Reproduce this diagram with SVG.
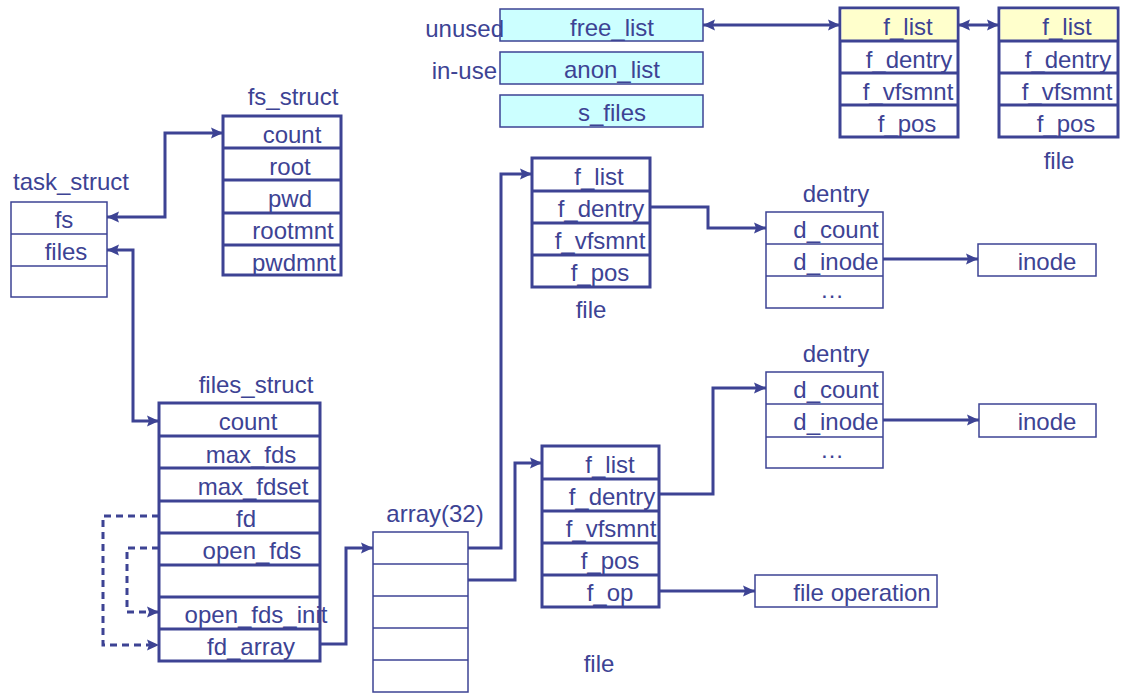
<svg xmlns="http://www.w3.org/2000/svg" width="1121" height="693" viewBox="0 0 1121 693">
  <style>
    text { font-family: "Liberation Sans", Arial, sans-serif; font-size: 24px; fill: #3d4394; }
    .c { text-anchor: middle; }
    .e { text-anchor: end; }
    .thick { fill: #ffffff; stroke: #3d4394; stroke-width: 3; }
    .thin { fill: #ffffff; stroke: #3d4394; stroke-width: 1.5; }
    .cyan { fill: #ccffff; stroke: #3d4394; stroke-width: 1.5; }
    .yellow { fill: #ffffcc; stroke: none; }
    .rowT { stroke: #3d4394; stroke-width: 3; }
    .rowN { stroke: #3d4394; stroke-width: 1.5; }
    .link { fill: none; stroke: #3d4394; stroke-width: 3; }
    .dash { fill: none; stroke: #3d4394; stroke-width: 3; stroke-dasharray: 7 5; }
  </style>
  <defs>
    <marker id="arrow" viewBox="0 0 12 12" refX="12" refY="6" markerWidth="12" markerHeight="12" markerUnits="userSpaceOnUse" orient="auto-start-reverse">
      <path d="M0,0.5 L12,6 L0,11.5 L2,6 z" fill="#3d4394"/>
    </marker>
  </defs>

  <!-- super block lists -->
  <g id="sb_lists">
    <rect class="cyan" x="500" y="9" width="203" height="32"/>
    <rect class="cyan" x="500" y="52" width="203" height="32"/>
    <rect class="cyan" x="500" y="95" width="203" height="32"/>
    <text class="c" x="612" y="36">free_list</text>
    <text class="c" x="612" y="78">anon_list</text>
    <text class="c" x="612" y="121">s_files</text>
    <text class="e" x="504" y="37">unused</text>
    <text class="e" x="497" y="79">in-use</text>
  </g>

  <!-- file objects on the free list -->
  <g id="file_free_1">
    <rect class="thick" x="840" y="8" width="118" height="129"/>
    <rect class="yellow" x="841.5" y="9.5" width="115" height="31"/>
    <line class="rowT" x1="840" y1="41" x2="958" y2="41"/>
    <line class="rowT" x1="840" y1="73" x2="958" y2="73"/>
    <line class="rowT" x1="840" y1="105" x2="958" y2="105"/>
    <text class="c" x="908" y="35">f_list</text>
    <text class="c" x="909" y="68">f_dentry</text>
    <text class="c" x="908" y="100">f_vfsmnt</text>
    <text class="c" x="907" y="132">f_pos</text>
  </g>
  <g id="file_free_2">
    <rect class="thick" x="999" y="8" width="119" height="129"/>
    <rect class="yellow" x="1000.5" y="9.5" width="116" height="31"/>
    <line class="rowT" x1="999" y1="41" x2="1118" y2="41"/>
    <line class="rowT" x1="999" y1="73" x2="1118" y2="73"/>
    <line class="rowT" x1="999" y1="105" x2="1118" y2="105"/>
    <text class="c" x="1067" y="35">f_list</text>
    <text class="c" x="1068" y="68">f_dentry</text>
    <text class="c" x="1067" y="100">f_vfsmnt</text>
    <text class="c" x="1066" y="132">f_pos</text>
    <text class="c" x="1059" y="169">file</text>
  </g>

  <!-- fs_struct -->
  <g id="fs_struct">
    <text class="c" x="293" y="105">fs_struct</text>
    <rect class="thick" x="223" y="116" width="118" height="159"/>
    <line class="rowT" x1="223" y1="148" x2="341" y2="148"/>
    <line class="rowT" x1="223" y1="180" x2="341" y2="180"/>
    <line class="rowT" x1="223" y1="213" x2="341" y2="213"/>
    <line class="rowT" x1="223" y1="245" x2="341" y2="245"/>
    <text class="c" x="292" y="143">count</text>
    <text class="c" x="290" y="175">root</text>
    <text class="c" x="290" y="207">pwd</text>
    <text class="c" x="293" y="239">rootmnt</text>
    <text class="c" x="294" y="271">pwdmnt</text>
  </g>

  <!-- task_struct -->
  <g id="task_struct">
    <text x="13" y="190">task_struct</text>
    <rect class="thin" x="11" y="202" width="96" height="95"/>
    <line class="rowN" x1="11" y1="234" x2="107" y2="234"/>
    <line class="rowN" x1="11" y1="266" x2="107" y2="266"/>
    <text class="c" x="64" y="228">fs</text>
    <text class="c" x="66" y="260">files</text>
  </g>

  <!-- files_struct -->
  <g id="files_struct">
    <text class="c" x="256" y="393">files_struct</text>
    <rect class="thick" x="159" y="403" width="161" height="258"/>
    <line class="rowT" x1="159" y1="436" x2="320" y2="436"/>
    <line class="rowT" x1="159" y1="468" x2="320" y2="468"/>
    <line class="rowT" x1="159" y1="501" x2="320" y2="501"/>
    <line class="rowT" x1="159" y1="533" x2="320" y2="533"/>
    <line class="rowT" x1="159" y1="565" x2="320" y2="565"/>
    <line class="rowT" x1="159" y1="597" x2="320" y2="597"/>
    <line class="rowT" x1="159" y1="629" x2="320" y2="629"/>
    <text class="c" x="248" y="430">count</text>
    <text class="c" x="251" y="463">max_fds</text>
    <text class="c" x="253" y="495">max_fdset</text>
    <text class="c" x="246" y="527">fd</text>
    <text class="c" x="252" y="559">open_fds</text>
    <text class="c" x="256" y="623">open_fds_init</text>
    <text class="c" x="251" y="655">fd_array</text>
  </g>

  <!-- fd array -->
  <g id="fd_array">
    <text class="c" x="435" y="522">array(32)</text>
    <rect class="thin" x="373" y="532" width="95" height="160"/>
    <line class="rowN" x1="373" y1="564" x2="468" y2="564"/>
    <line class="rowN" x1="373" y1="596" x2="468" y2="596"/>
    <line class="rowN" x1="373" y1="628" x2="468" y2="628"/>
    <line class="rowN" x1="373" y1="660" x2="468" y2="660"/>
  </g>

  <!-- open file objects -->
  <g id="file_open_1">
    <rect class="thick" x="532" y="158" width="118" height="129"/>
    <line class="rowT" x1="532" y1="191" x2="650" y2="191"/>
    <line class="rowT" x1="532" y1="223" x2="650" y2="223"/>
    <line class="rowT" x1="532" y1="255" x2="650" y2="255"/>
    <text class="c" x="599" y="185">f_list</text>
    <text class="c" x="601" y="217">f_dentry</text>
    <text class="c" x="600" y="249">f_vfsmnt</text>
    <text class="c" x="600" y="281">f_pos</text>
    <text class="c" x="591" y="318">file</text>
  </g>
  <g id="file_open_2">
    <rect class="thick" x="542" y="446" width="117" height="161"/>
    <line class="rowT" x1="542" y1="479" x2="659" y2="479"/>
    <line class="rowT" x1="542" y1="511" x2="659" y2="511"/>
    <line class="rowT" x1="542" y1="543" x2="659" y2="543"/>
    <line class="rowT" x1="542" y1="575" x2="659" y2="575"/>
    <text class="c" x="610" y="473">f_list</text>
    <text class="c" x="612" y="505">f_dentry</text>
    <text class="c" x="611" y="537">f_vfsmnt</text>
    <text class="c" x="610" y="569">f_pos</text>
    <text class="c" x="610" y="601">f_op</text>
    <text class="c" x="599" y="672">file</text>
  </g>

  <!-- dentries -->
  <g id="dentry_1">
    <text class="c" x="836" y="202">dentry</text>
    <rect class="thin" x="766" y="212" width="117" height="96"/>
    <line class="rowN" x1="766" y1="244" x2="883" y2="244"/>
    <line class="rowN" x1="766" y1="276" x2="883" y2="276"/>
    <text class="c" x="836" y="238">d_count</text>
    <text class="c" x="836" y="270">d_inode</text>
    <text class="c" x="832" y="298">…</text>
  </g>
  <g id="dentry_2">
    <text class="c" x="836" y="362">dentry</text>
    <rect class="thin" x="766" y="372" width="117" height="96"/>
    <line class="rowN" x1="766" y1="404" x2="883" y2="404"/>
    <line class="rowN" x1="766" y1="437" x2="883" y2="437"/>
    <text class="c" x="836" y="398">d_count</text>
    <text class="c" x="836" y="430">d_inode</text>
    <text class="c" x="832" y="458">…</text>
  </g>

  <!-- inodes and file operations -->
  <g id="inode_1">
    <rect class="thin" x="978" y="244" width="118" height="32"/>
    <text class="c" x="1047" y="270">inode</text>
  </g>
  <g id="inode_2">
    <rect class="thin" x="979" y="404" width="117" height="33"/>
    <text class="c" x="1047" y="430">inode</text>
  </g>
  <g id="file_operation">
    <rect class="thin" x="755" y="575" width="182" height="32"/>
    <text class="c" x="862" y="601">file operation</text>
  </g>

  <!-- pointers between structures -->
  <g id="connectors">
    <path class="link" d="M703,25 H840" marker-start="url(#arrow)" marker-end="url(#arrow)"/>
    <path class="link" d="M958,25 H999" marker-start="url(#arrow)" marker-end="url(#arrow)"/>
    <path class="link" d="M107,217 H165 V133 H223" marker-start="url(#arrow)" marker-end="url(#arrow)"/>
    <path class="link" d="M107,250 H133 V421 H159" marker-start="url(#arrow)" marker-end="url(#arrow)"/>
    <path class="dash" d="M159,516 H103 V645 H159" marker-end="url(#arrow)"/>
    <path class="dash" d="M159,548 H127 V612 H159" marker-end="url(#arrow)"/>
    <path class="link" d="M320,644 H346 V548 H373" marker-end="url(#arrow)"/>
    <path class="link" d="M468,548 H501 V174 H532" marker-end="url(#arrow)"/>
    <path class="link" d="M468,580 H515 V463 H542" marker-end="url(#arrow)"/>
    <path class="link" d="M650,207 H708 V228 H766" marker-end="url(#arrow)"/>
    <path class="link" d="M883,259 H978" marker-end="url(#arrow)"/>
    <path class="link" d="M659,494 H713 V388 H766" marker-end="url(#arrow)"/>
    <path class="link" d="M883,420 H979" marker-end="url(#arrow)"/>
    <path class="link" d="M659,591 H755" marker-end="url(#arrow)"/>
  </g>
</svg>
